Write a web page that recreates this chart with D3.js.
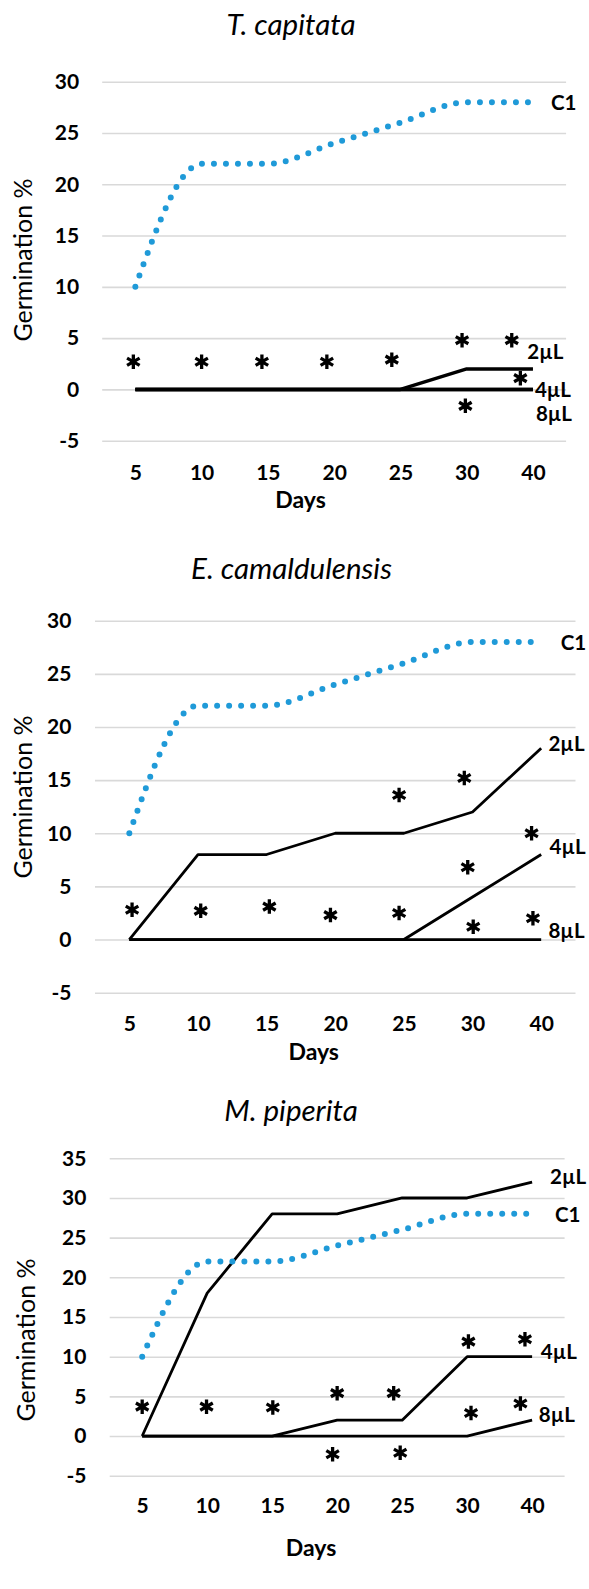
<!DOCTYPE html>
<html>
<head>
<meta charset="utf-8">
<script src="https://cdn.jsdelivr.net/npm/d3@7"></script>
<style>
  html, body { margin: 0; padding: 0; background: #fff; }
  svg { display: block; }
  text { font-family: Lato, "Open Sans", sans-serif; fill: #000; }
</style>
</head>
<body>
<svg id="chart" width="589" height="1589"></svg>
<script>
// ---------- DATA ----------
const days = ["5", "10", "15", "20", "25", "30", "40"];
const yTicks30 = [-5, 0, 5, 10, 15, 20, 25, 30];
const yTicks35 = [-5, 0, 5, 10, 15, 20, 25, 30, 35];
const seriesNames = ["C1", "2µL", "4µL", "8µL"];
const titles = ["T. capitata", "E. camaldulensis", "M. piperita"];

// T. capitata
const tcC1 = [10, 22, 22, 24, 26, 28, 28];
const tc2 = [0, 0, 0, 0, 0, 2, 2];
const tc4 = [0, 0, 0, 0, 0, 0, 0];
const tc8 = [0, 0, 0, 0, 0, 0, 0];
const tcStarAt = [-0.03, 1.0, 1.91, 2.89, 3.87, 4.93, 5.68, 5.81, 4.98];
const tcStarVal = [2.7, 2.7, 2.7, 2.7, 2.9, 4.8, 4.8, 1.1, -1.6];

// E. camaldulensis
const ecC1 = [10, 22, 22, 24, 26, 28, 28];
const ec2 = [0, 8, 8, 10, 10, 12, 18];
const ec4 = [0, 0, 0, 0, 0, 4, 8];
const ec8 = [0, 0, 0, 0, 0, 0, 0];
const ecStarAt = [0.04, 1.04, 2.04, 2.93, 3.93, 3.93, 4.88, 4.93, 5.86, 5.01, 5.88];
const ecStarVal = [2.8, 2.7, 3.1, 2.3, 2.5, 13.6, 15.2, 6.8, 10.0, 1.2, 2.0];

// M. piperita
const mpC1 = [10, 22, 22, 24, 26, 28, 28];
const mp2 = [0, 18, 28, 28, 30, 30, 32];
const mp4 = [0, 0, 0, 2, 2, 10, 10];
const mp8 = [0, 0, 0, 0, 0, 0, 2];
const mpStarAt = [0, 0.99, 2.01, 3.0, 3.87, 5.02, 5.89, 5.06, 5.82, 2.93, 3.97];
const mpStarVal = [3.7, 3.7, 3.6, 5.4, 5.4, 11.9, 12.2, 2.9, 4.1, -2.3, -2.1];

// ---------- LAYOUT ----------
const panels = [
  { title: titles[0], c1: tcC1, s2: tc2, s4: tc4, s8: tc8, starAt: tcStarAt, starVal: tcStarVal,
    left: 102.2, right: 566.1, yTop: 81.7, yBot: 440.7, dom: [-5, 30], ticks: yTicks30, pad: 23,
    titleX: 291, titleY: 25, xLabY: 472.7, daysX: 300.5, daysY: 500, yLabX: 23.3, yLabY: 260, lw: 3.5,
    lab: [[18, 0], [-5.6, -17], [2, 0], [3, 24]] },
  { title: titles[1], c1: ecC1, s2: ec2, s4: ec4, s8: ec8, starAt: ecStarAt, starVal: ecStarVal,
    left: 95, right: 575.5, yTop: 620.7, yBot: 992.7, dom: [-5, 30], ticks: yTicks30, pad: 23.6,
    titleX: 291.5, titleY: 569, xLabY: 1023, daysX: 313.7, daysY: 1052, yLabX: 23.3, yLabY: 797, lw: 2.8,
    lab: [[19.6, 1], [7.3, -5], [8.4, -8], [7.3, -9]] },
  { title: titles[2], c1: mpC1, s2: mp2, s4: mp4, s8: mp8, starAt: mpStarAt, starVal: mpStarVal,
    left: 109.7, right: 564.6, yTop: 1158.3, yBot: 1475.7, dom: [-5, 35], ticks: yTicks35, pad: 23.3,
    titleX: 291, titleY: 1110.7, xLabY: 1505.7, daysX: 311, daysY: 1548.3, yLabX: 26.3, yLabY: 1340, lw: 2.8,
    lab: [[22.9, 1], [18, -5], [8.7, -5], [6.7, -6]] }
];

const svg = d3.select("#chart");

const asterisk = {
  draw(ctx, size) {
    const r = Math.sqrt(size) / 2;
    const t = r / 2, u = t * Math.sqrt(3);
    ctx.moveTo(0, r); ctx.lineTo(0, -r);
    ctx.moveTo(-u, -t); ctx.lineTo(u, t);
    ctx.moveTo(-u, t); ctx.lineTo(u, -t);
  }
};

panels.forEach(p => {
  const g = svg.append("g");
  const x = d3.scalePoint().domain(days).range([p.left, p.right]).padding(0.5);
  const xi = d3.scaleLinear().domain([0, days.length - 1]).range([x(days[0]), x(days[days.length - 1])]);
  const y = d3.scaleLinear().domain(p.dom).range([p.yBot, p.yTop]);

  // grid + y tick labels
  const ya = g.append("g").attr("transform", `translate(${p.left},0)`)
    .call(d3.axisLeft(y).tickValues(p.ticks).tickFormat(d => String(d))
      .tickSize(-(p.right - p.left)).tickPadding(p.pad));
  ya.select(".domain").remove();
  ya.selectAll(".tick line").attr("stroke", "#d9d9d9").attr("stroke-width", 1.6);
  ya.selectAll(".tick text").attr("font-size", 21).attr("font-weight", "bold")
    .attr("font-family", "Lato, sans-serif").attr("fill", "#111");

  // x tick labels
  const xa = g.append("g").attr("transform", `translate(0,${p.xLabY})`)
    .call(d3.axisBottom(x).tickSize(0).tickPadding(0));
  xa.select(".domain").remove();
  xa.selectAll(".tick text").attr("y", 0).attr("dy", "0.36em").attr("font-size", 21)
    .attr("font-weight", "bold").attr("font-family", "Lato, sans-serif").attr("fill", "#111");

  // titles / axis labels
  g.append("text").attr("x", p.titleX).attr("y", p.titleY).attr("dy", "0.35em")
    .attr("text-anchor", "middle").attr("font-size", 29.5).attr("font-style", "italic")
    .text(p.title);
  g.append("text").attr("x", p.daysX).attr("y", p.daysY).attr("dy", "0.35em")
    .attr("text-anchor", "middle").attr("font-size", 23).attr("font-weight", "bold")
    .attr("fill", "#111").text("Days");
  g.append("text").attr("transform", `translate(${p.yLabX},${p.yLabY}) rotate(-90)`)
    .attr("dy", "0.35em").attr("text-anchor", "middle").attr("font-size", 25)
    .attr("fill", "#222").text("Germination %");

  // black lines
  const line = d3.line().x((d, i) => x(days[i])).y(d => y(d));
  [p.s8, p.s4, p.s2].forEach(s => {
    g.append("path").datum(s).attr("d", line).attr("fill", "none")
      .attr("stroke", "#000").attr("stroke-width", p.lw).attr("stroke-linejoin", "round");
  });

  // C1 dotted smooth
  const smooth = d3.line().x((d, i) => x(days[i])).y(d => y(d)).curve(d3.curveMonotoneX);
  g.append("path").datum(p.c1).attr("d", smooth).attr("fill", "none")
    .attr("stroke", "#1f9ad8").attr("stroke-width", 6).attr("stroke-linecap", "round")
    .attr("stroke-dasharray", "0,12");

  // asterisks
  const sym = d3.symbol().type(asterisk).size(210);
  p.starAt.forEach((a, i) => {
    g.append("path").attr("d", sym())
      .attr("transform", `translate(${xi(a)},${y(p.starVal[i])})`)
      .attr("stroke", "#000").attr("stroke-width", 3.3).attr("fill", "none");
  });

  // series labels
  const series = [p.c1, p.s2, p.s4, p.s8];
  series.forEach((s, k) => {
    const last = s.length - 1;
    g.append("text").attr("x", x(days[last]) + p.lab[k][0]).attr("y", y(s[last]) + p.lab[k][1])
      .attr("dy", "0.36em").attr("font-size", 20.5).attr("font-weight", "bold")
      .attr("fill", "#111").text(seriesNames[k]);
  });
});
</script>
</body>
</html>
